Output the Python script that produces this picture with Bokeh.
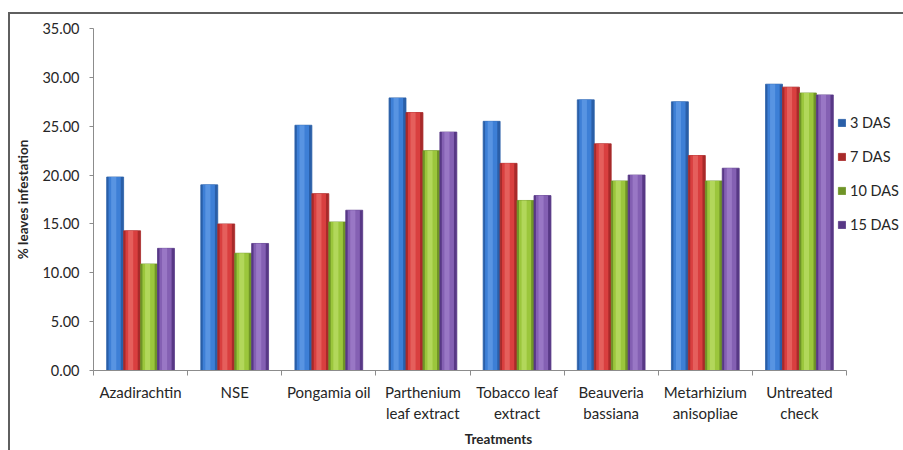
from bokeh.plotting import figure
from bokeh.models import (ColumnDataSource, FixedTicker, NumeralTickFormatter,
                          Legend, LegendItem)
from bokeh.transform import dodge
from bokeh.embed import file_html
from bokeh.resources import INLINE

# Per cent leaf infestation by treatment and days after spraying
treatments = ["Azadirachtin", "NSE", "Pongamia oil", "Parthenium\nleaf extract",
              "Tobacco leaf\nextract", "Beauveria\nbassiana",
              "Metarhizium\nanisopliae", "Untreated\ncheck"]
das3 = [19.8, 19.0, 25.1, 27.9, 25.5, 27.7, 27.5, 29.3]
das7 = [14.3, 15.0, 18.1, 26.4, 21.2, 23.2, 22.0, 29.0]
das10 = [10.9, 12.0, 15.2, 22.5, 17.4, 19.4, 19.4, 28.4]
das15 = [12.5, 13.0, 16.4, 24.4, 17.9, 20.0, 20.7, 28.2]
series_names = ["3 DAS", "7 DAS", "10 DAS", "15 DAS"]
y_ticks = [0, 5, 10, 15, 20, 25, 30, 35]

pos = list(range(len(treatments)))
source = ColumnDataSource(dict(x=pos, d3=das3, d7=das7, d10=das10, d15=das15))

FONT = "Lato"
TXT = "#262626"

# the frame runs on to the right edge so the legend can sit beside the last group;
# the x axis itself is bounded to the eight categories
cat_px = 94.125
frame_w = 810
x_end = -0.5 + frame_w / cat_px

p = figure(frame_width=frame_w, frame_height=342, x_range=(-0.5, x_end), y_range=(0, 35),
           output_backend="svg", toolbar_location=None,
           min_border_left=83, min_border_right=0, min_border_top=14,
           min_border_bottom=80,
           styles={"margin-left": "8px", "margin-top": "12px",
                   "border-left": "2px solid #5f5f5f",
                   "border-top": "2px solid #5f5f5f"})
p.outline_line_color = None
p.xgrid.visible = False
p.ygrid.visible = False

# gel-style shading: edge, body and highlight colours for each series
palettes = [
    ("#2a5fa8", "#3d7fd6", "#6fa6ec"),
    ("#a82a2a", "#d93f3f", "#ee7a74"),
    ("#6f9427", "#9bc63c", "#c4e574"),
    ("#583886", "#8460b3", "#ab8ad3"),
]
fields = ["d3", "d7", "d10", "d15"]
offsets = [-0.27, -0.09, 0.09, 0.27]
bw = 0.18

legend_items = []
for name, fld, off, (edge, body, hi) in zip(series_names, fields, offsets, palettes):
    r = p.vbar(x=dodge("x", off, range=p.x_range), top=fld, width=bw, source=source,
               fill_color=edge, line_color=edge, line_width=0.8)
    p.vbar(x=dodge("x", off - 0.005, range=p.x_range), top=fld, width=bw * 0.72,
           source=source, fill_color=body, line_color=None)
    p.vbar(x=dodge("x", off - 0.015, range=p.x_range), top=fld, width=bw * 0.3,
           source=source, fill_color=hi, line_color=None, fill_alpha=0.55)
    legend_items.append(LegendItem(label=name, renderers=[r]))

# y axis
p.yaxis.ticker = FixedTicker(ticks=y_ticks)
p.yaxis.formatter = NumeralTickFormatter(format="0.00")
p.yaxis.axis_label = "% leaves infestation"
p.yaxis.axis_label_text_font = FONT
p.yaxis.axis_label_text_font_style = "bold"
p.yaxis.axis_label_text_font_size = "13.5px"
p.yaxis.axis_label_text_color = TXT
p.yaxis.axis_label_standoff = 8
p.yaxis.major_label_text_font = FONT
p.yaxis.major_label_text_font_size = "14.5px"
p.yaxis.major_label_text_color = TXT
p.yaxis.major_label_standoff = 10
p.yaxis.major_tick_out = 4
p.yaxis.major_tick_in = 0
p.yaxis.minor_tick_out = 0
p.yaxis.minor_tick_in = 0
p.yaxis.axis_line_color = "#8c8c8c"
p.yaxis.major_tick_line_color = "#8c8c8c"

# x axis: labels at category centres, tick marks on category boundaries
p.xaxis.bounds = (-0.5, len(pos) - 0.5)
p.xaxis.ticker = FixedTicker(ticks=pos, minor_ticks=[i - 0.5 for i in range(len(pos) + 1)])
p.xaxis.major_label_overrides = {i: t for i, t in enumerate(treatments)}
p.xaxis.major_tick_out = 0
p.xaxis.major_tick_in = 0
p.xaxis.minor_tick_out = 5
p.xaxis.minor_tick_in = 0
p.xaxis.minor_tick_line_color = "#8c8c8c"
p.xaxis.axis_line_color = "#8c8c8c"
p.xaxis.major_label_text_font = FONT
p.xaxis.major_label_text_font_size = "15px"
p.xaxis.major_label_text_color = TXT
p.xaxis.major_label_standoff = 7
p.xaxis.axis_label = "Treatments"
p.xaxis.axis_label_text_font = FONT
p.xaxis.axis_label_text_font_style = "bold"
p.xaxis.axis_label_text_font_size = "13.5px"
p.xaxis.axis_label_text_color = TXT
p.xaxis.axis_label_standoff = 6

legend = Legend(items=legend_items, location=(744, 136),
                glyph_width=9, glyph_height=9, label_standoff=4,
                label_text_font=FONT, label_text_font_size="14.5px",
                label_text_color=TXT, label_height=20, spacing=14,
                padding=0, margin=0, border_line_color=None,
                background_fill_alpha=0)
p.add_layout(legend, "center")

open("out.html", "w").write(file_html(p, INLINE))
